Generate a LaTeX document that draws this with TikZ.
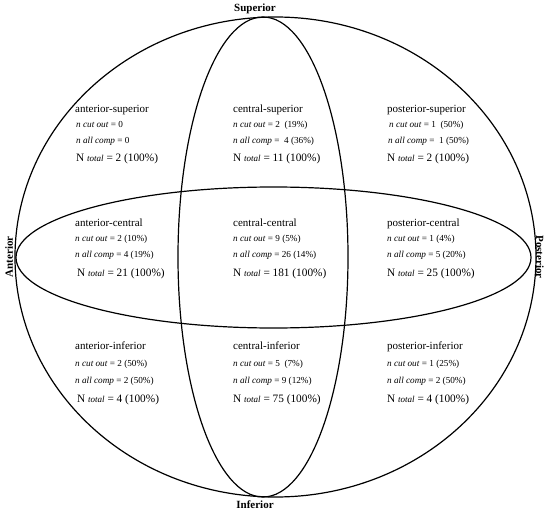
\documentclass[tikz,border=0pt]{standalone}
\usepackage{fontspec}
\setmainfont{Liberation Serif}
\newcommand{\ncut}{\textit{n cut out}}
\newcommand{\nall}{\textit{n all comp}}
\newcommand{\ntot}{N {\fontsize{9}{10}\selectfont\itshape total}}
\tikzset{
  rim/.style={line width=1.2pt},
  hdr/.style={anchor=base west, inner sep=0pt, font=\fontsize{11}{13}\selectfont},
  cnt/.style={anchor=base west, inner sep=0pt, font=\fontsize{9.2}{10}\selectfont},
  tot/.style={anchor=base west, inner sep=0pt, font=\fontsize{11.3}{13}\selectfont},
  side/.style={inner sep=1pt, font=\bfseries\fontsize{11}{13}\selectfont},
}

\begin{document}
\begin{tikzpicture}[x=1pt, y=-1pt]
  \useasboundingbox (0,0) rectangle (550,514);
  % --- ellipses ---
  \draw[rim] (275.5,257) ellipse [x radius=260.5pt, y radius=240pt];
  \draw[rim] (263,257) ellipse [x radius=85pt, y radius=240pt];
  \draw[rim] (273.5,257.5) ellipse [x radius=257.5pt, y radius=70.5pt];

  % --- directions ---
  \node[side] (sup) at (255,9) {Superior};
  \node[side] (inf) at (255,505) {Inferior};
  \node[side, rotate=90] (ant) at (9,257) {Anterior};
  \node[side, rotate=-90] (post) at (540,257) {Posterior};

  % --- superior row ---
  \node[hdr] (as) at (75,112) {anterior-superior};
  \node[cnt] (as1) at (76,127) {\ncut{} = 0};
  \node[cnt] (as2) at (76,143) {\nall{} = 0};
  \node[tot] (as3) at (76,161) {\ntot{} = 2 (100\%)};
  \node[hdr] (cs) at (233,112) {central-superior};
  \node[cnt] (cs1) at (233,127) {\ncut{} = 2\ \ (19\%)};
  \node[cnt] (cs2) at (233,143) {\nall{} =\ \ 4 (36\%)};
  \node[tot] (cs3) at (233,161) {\ntot{} = 11 (100\%)};
  \node[hdr] (ps) at (387,112) {posterior-superior};
  \node[cnt] (ps1) at (389,127) {\ncut{} = 1\ \ (50\%)};
  \node[cnt] (ps2) at (388,143) {\nall{} =\ \ 1 (50\%)};
  \node[tot] (ps3) at (387,161) {\ntot{} = 2 (100\%)};

  % --- central row ---
  \node[hdr] (ac) at (75,226) {anterior-central};
  \node[cnt] (ac1) at (75,241) {\ncut{} = 2 (10\%)};
  \node[cnt] (ac2) at (75,257) {\nall{} = 4 (19\%)};
  \node[tot] (ac3) at (77,276) {\ntot{} = 21 (100\%)};
  \node[hdr] (cc) at (233,226) {central-central};
  \node[cnt] (cc1) at (233,241) {\ncut{} = 9 (5\%)};
  \node[cnt] (cc2) at (233,257) {\nall{} = 26 (14\%)};
  \node[tot] (cc3) at (233,276) {\ntot{} = 181 (100\%)};
  \node[hdr] (pc) at (387,226) {posterior-central};
  \node[cnt] (pc1) at (387,241) {\ncut{} = 1 (4\%)};
  \node[cnt] (pc2) at (387,257) {\nall{} = 5 (20\%)};
  \node[tot] (pc3) at (387,276) {\ntot{} = 25 (100\%)};

  % --- inferior row ---
  \node[hdr] (ai) at (75,349) {anterior-inferior};
  \node[cnt] (ai1) at (75,366) {\ncut{} = 2 (50\%)};
  \node[cnt] (ai2) at (75,383) {\nall{} = 2 (50\%)};
  \node[tot] (ai3) at (77,402) {\ntot{} = 4 (100\%)};
  \node[hdr] (ci) at (233,349) {central-inferior};
  \node[cnt] (ci1) at (233,366) {\ncut{} = 5\ \ (7\%)};
  \node[cnt] (ci2) at (233,383) {\nall{} = 9 (12\%)};
  \node[tot] (ci3) at (233,402) {\ntot{} = 75 (100\%)};
  \node[hdr] (pi) at (387,349) {posterior-inferior};
  \node[cnt] (pi1) at (387,366) {\ncut{} = 1 (25\%)};
  \node[cnt] (pi2) at (387,383) {\nall{} = 2 (50\%)};
  \node[tot] (pi3) at (387,402) {\ntot{} = 4 (100\%)};
\end{tikzpicture}
\end{document}
